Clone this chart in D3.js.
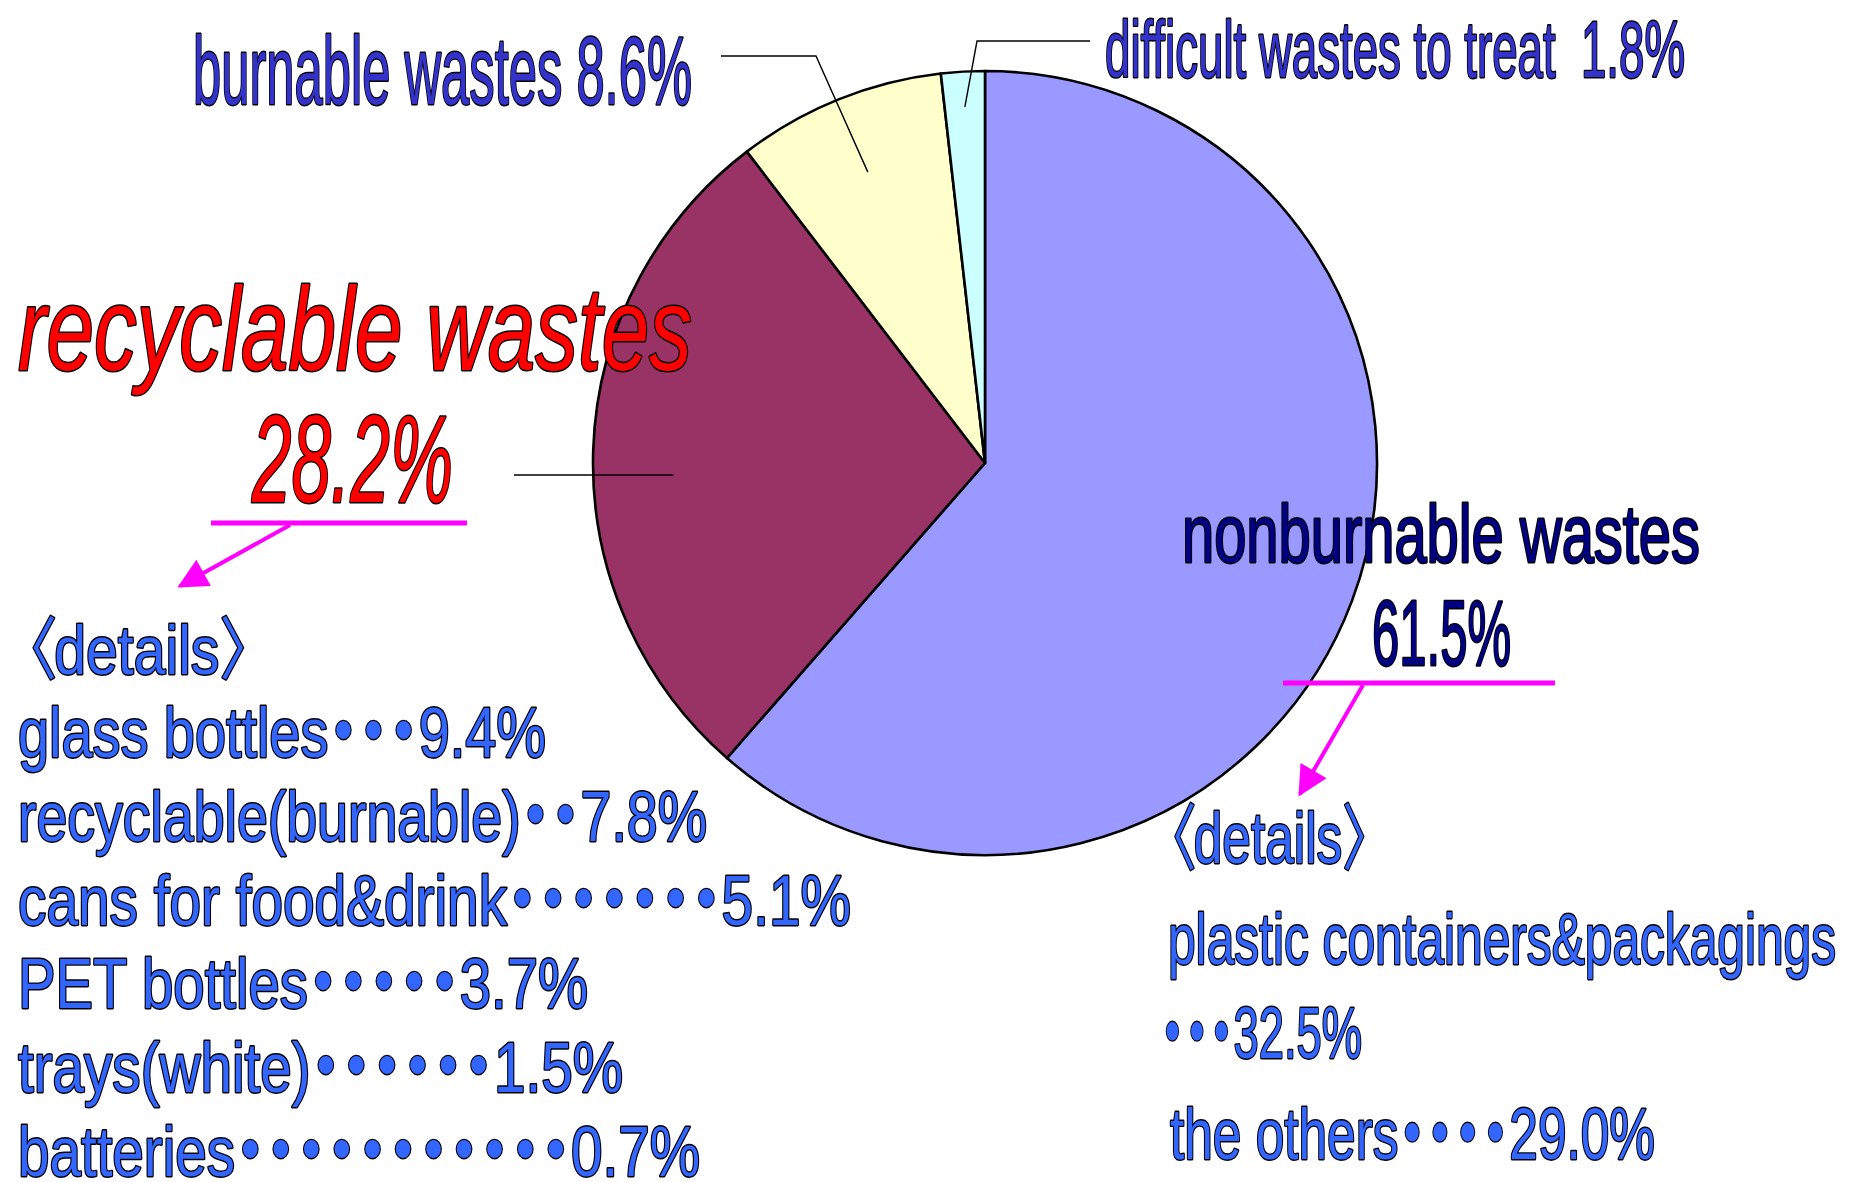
<!DOCTYPE html>
<html>
<head>
<meta charset="utf-8">
<script src="https://cdn.jsdelivr.net/npm/d3@7/dist/d3.min.js"></script>
<style>
  html, body { margin: 0; padding: 0; background: #fff; }
  svg { display: block; }
  text { font-family: "Liberation Sans", "Noto Sans CJK JP", sans-serif; white-space: pre; paint-order: stroke fill; }
  .cjk { font-family: "Noto Sans CJK JP", sans-serif; }
</style>
</head>
<body>
<script>
// Waste composition (percent)
const categories = ["nonburnable wastes", "recyclable wastes", "burnable wastes", "difficult wastes to treat"];
const shares = [61.5, 28.2, 8.6, 1.8];
const sliceColors = ["#9999FF", "#993366", "#FFFFCC", "#CCFFFF"];

// Breakdown of recyclable wastes
const recyclableItems = ["glass bottles", "recyclable(burnable)", "cans for food&drink", "PET bottles", "trays(white)", "batteries"];
const recyclableShares = [9.4, 7.8, 5.1, 3.7, 1.5, 0.7];
const recyclableDots = [3, 2, 7, 5, 6, 11];

// Breakdown of nonburnable wastes
const nonburnableItems = ["plastic containers&packagings", "the others"];
const nonburnableShares = [32.5, 29.0];
const nonburnableDots = [3, 4];

const W = 1854, H = 1182;
const svg = d3.select("body").append("svg").attr("width", W).attr("height", H);
const defs = svg.append("defs");

const cx = 985, cy = 463, R = 392;
const fmt = v => v.toFixed(1) + "%";

const pie = d3.pie().sort(null).value(d => d.v);
const arcs = pie(categories.map((c, i) => ({ c, v: shares[i], i })));
const arc = d3.arc().innerRadius(0).outerRadius(R);

const g = svg.append("g").attr("transform", `translate(${cx},${cy})`);
g.selectAll("path").data(arcs).join("path")
  .attr("d", arc)
  .attr("fill", d => sliceColors[d.data.i])
  .attr("stroke", "#000")
  .attr("stroke-width", 2.6)
  .attr("stroke-linejoin", "round");

// point inside a slice, at a fraction of the radius along its mid angle
function inner(d, f) {
  const a = (d.startAngle + d.endAngle) / 2;
  return [cx + Math.sin(a) * R * f, cy - Math.cos(a) * R * f];
}

// leader lines
const lead = svg.append("g").attr("fill", "none").attr("stroke", "#000").attr("stroke-width", 1.4);
const pts = a => a.map(q => q.join(",")).join(" ");
lead.append("polyline").attr("points", pts([[721, 56], [816, 56], inner(arcs[2], 0.8)]));
lead.append("polyline").attr("points", pts([[1090, 41], [977, 41], inner(arcs[3], 0.91)]));
lead.append("polyline").attr("points", pts([[514, 475], [cx - R * 0.795, 475]]));

// Black-rimmed text, squeezed horizontally to a given width.
// segs: [{t, cjk, bold, ls, dx}] ; lead: blank share (em) in front of the first glyph, pulled left up to maxShift px
function label(segs, x, y, size, width, fill, opts = {}) {
  const t = svg.append("text")
    .attr("font-size", size)
    .attr("fill", fill)
    .attr("stroke", "#000")
    .attr("stroke-width", opts.sw || 2.8)
    .attr("stroke-linejoin", "round");
  if (opts.italic) t.attr("font-style", "italic");
  segs.forEach(s => {
    const sp = t.append("tspan").text(s.t);
    if (s.cjk) sp.attr("class", "cjk");
    if (s.bold) sp.attr("font-weight", 700);
    if (s.ls != null) sp.attr("letter-spacing", s.ls * size);
    if (s.dx != null) sp.attr("dx", s.dx * size);
  });
  const natural = t.node().getComputedTextLength();
  const k = width / natural;
  let shift = (opts.lead || 0) * size * k;
  if (opts.maxShift != null) shift = Math.min(shift, opts.maxShift);
  t.attr("x", x - shift).attr("y", y)
    .attr("textLength", width + shift)
    .attr("lengthAdjust", "spacingAndGlyphs");
  return t;
}
const T = (s, dx) => ({ t: s, dx });
// a name whose last letter hands half a dot pitch to the leader dots that follow
const nameSegs = s => [T(s.slice(0, -1)), { t: s.slice(-1), ls: -0.23 }];
const dotSeg = n => ({ t: "・".repeat(n), cjk: true, bold: true, ls: -0.46 });
const openB = { t: "〈", cjk: true, ls: -0.05 };
const closeB = { t: "〉", cjk: true, ls: -0.5 };

// slice labels
label([T(`${categories[2]} ${fmt(shares[2])}`)], 193, 104, 97, 499, "#3333CC");
label([T(`${categories[3]}  ${fmt(shares[3])}`)], 1105, 77, 80, 580, "#3333CC");
label([T(categories[1])], 18, 370, 118, 674, "#FF0000", { italic: true, sw: 3 });
label([T(fmt(shares[1]))], 252, 502, 124, 201, "#FF0000", { italic: true, sw: 3 });
label([T(categories[0])], 1182, 562, 82, 518, "#000080");
label([T(fmt(shares[0]))], 1372, 665, 92, 139, "#000080");

// magenta callouts
defs.append("marker").attr("id", "arrowhead")
  .attr("viewBox", "0 0 10 10").attr("refX", 9).attr("refY", 5)
  .attr("markerWidth", 34).attr("markerHeight", 30)
  .attr("markerUnits", "userSpaceOnUse")
  .attr("orient", "auto")
  .append("path").attr("d", "M0,0 L10,5 L0,10 Z").attr("fill", "#FF00FF");

const mg = svg.append("g").attr("stroke", "#FF00FF").attr("stroke-width", 5);
mg.append("line").attr("x1", 211).attr("y1", 523).attr("x2", 467).attr("y2", 523);
mg.append("line").attr("x1", 290).attr("y1", 525).attr("x2", 180).attr("y2", 586)
  .attr("stroke-width", 4).attr("marker-end", "url(#arrowhead)");
mg.append("line").attr("x1", 1283).attr("y1", 683).attr("x2", 1555).attr("y2", 683);
mg.append("line").attr("x1", 1363).attr("y1", 685).attr("x2", 1300).attr("y2", 794)
  .attr("stroke-width", 4).attr("marker-end", "url(#arrowhead)");

// recyclable breakdown
const detailBlue = "#3366FF";
label([openB, T("details"), closeB], 15, 674, 68, 233, detailBlue, { lead: 0.5, maxShift: 15 });
const leftRight = [546, 707, 851, 588, 623, 700];
recyclableItems.forEach((name, i) => {
  label([...nameSegs(name), dotSeg(recyclableDots[i]), T(fmt(recyclableShares[i]), 0.23)],
    18, 757 + i * 83.8, 70, leftRight[i] - 18, detailBlue);
});

// nonburnable breakdown
label([openB, T("details"), closeB], 1168, 863, 72, 200, detailBlue, { lead: 0.5 });
label([T(nonburnableItems[0])], 1168, 964, 72, 668, detailBlue);
label([dotSeg(nonburnableDots[0]), T(fmt(nonburnableShares[0]), 0.23)], 1168, 1058, 72, 194, detailBlue, { lead: 0.42 });
label([...nameSegs(nonburnableItems[1]), dotSeg(nonburnableDots[1]), T(fmt(nonburnableShares[1]), 0.23)],
  1170, 1159, 72, 485, detailBlue);
</script>
</body>
</html>
